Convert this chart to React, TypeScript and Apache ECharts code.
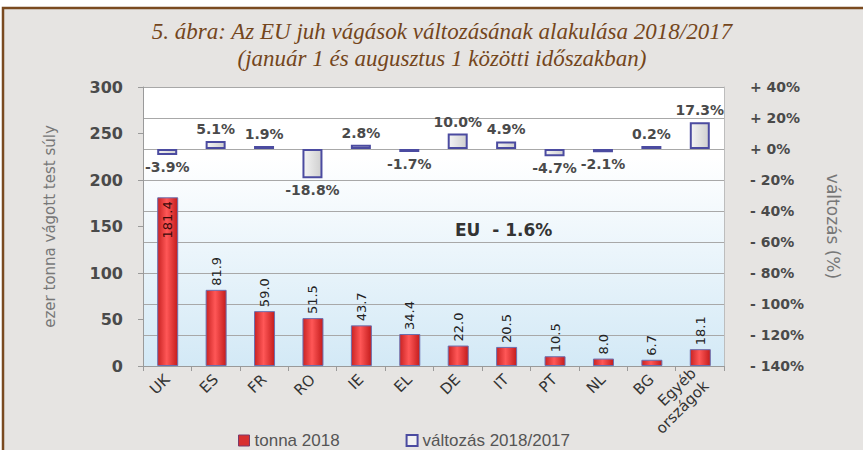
import React, { useEffect, useRef } from "react";
import * as echarts from "echarts";

const categories = ["UK", "ES", "FR", "RO", "IE", "EL", "DE", "IT", "PT", "NL", "BG", "Egyéb\nországok"];
const tonna2018 = [181.4, 81.9, 59.0, 51.5, 43.7, 34.4, 22.0, 20.5, 10.5, 8.0, 6.7, 18.1];
const valtozas = [-3.9, 5.1, 1.9, -18.8, 2.8, -1.7, 10.0, 4.9, -4.7, -2.1, 0.2, 17.3];
const titleLines = [
  "5. ábra: Az EU juh vágások változásának alakulása 2018/2017",
  "(január 1 és augusztus 1 közötti időszakban)",
];
const euNote = "EU  - 1.6%";

export default function App() {
  const ref = useRef<HTMLDivElement>(null);
  useEffect(() => {
    if (!ref.current) return;
    const chart = echarts.init(ref.current, undefined, { renderer: "svg" });
    const sans = "DejaVu Sans";
    const redGrad = new echarts.graphic.LinearGradient(0, 0, 1, 0, [
      { offset: 0, color: "#c92323" },
      { offset: 0.45, color: "#ff5757" },
      { offset: 1, color: "#c41c1c" },
    ]);
    const greyGrad = new echarts.graphic.LinearGradient(0, 0, 1, 0, [
      { offset: 0, color: "#f4f4f4" },
      { offset: 1, color: "#cfcfcf" },
    ]);
    chart.setOption({
      animation: false,
      backgroundColor: "#ffffff",
      title: {
        text: titleLines.join("\n"),
        left: 437,
        textAlign: "center",
        top: 13,
        textStyle: {
          fontFamily: "Liberation Serif",
          fontStyle: "italic",
          fontWeight: "normal",
          fontSize: 23,
          lineHeight: 27,
          color: "#74461c",
        },
      },
      graphic: [
        {
          type: "rect",
          z: -100,
          shape: { x: 3, y: 8, width: 900, height: 500 },
          style: { fill: "#e6e4e2", stroke: "#7a4a20", lineWidth: 2.5 },
        },
        {
          type: "text",
          left: 455,
          top: 221,
          style: {
            text: euNote,
            fontFamily: sans,
            fontWeight: "bold",
            fontSize: 17,
            fill: "#333333",
          },
        },
      ],
      legend: {
        left: 233,
        top: 427,
        itemWidth: 11,
        itemHeight: 11,
        itemGap: 66,
        textStyle: { fontFamily: "Liberation Sans", fontSize: 17, color: "#555555" },
        data: [
          { name: "tonna 2018", icon: "rect", itemStyle: { color: "#d83030", borderColor: "#7a3a6a", borderWidth: 1 } },
          { name: "változás 2018/2017", icon: "rect", itemStyle: { color: "#f2f2f2", borderColor: "#4b4ba0", borderWidth: 2 } },
        ],
      },
      grid: {
        left: 143,
        right: 139,
        top: 87,
        bottom: 84,
        show: true,
        borderWidth: 0,
        backgroundColor: new echarts.graphic.LinearGradient(0, 0, 0, 1, [
          { offset: 0, color: "#ffffff" },
          { offset: 0.25, color: "#ffffff" },
          { offset: 1, color: "#d3e9f6" },
        ]),
      },
      xAxis: {
        type: "category",
        data: categories,
        axisLine: { lineStyle: { color: "#9a9a9a" } },
        axisTick: { show: true, length: 5, lineStyle: { color: "#9a9a9a" } },
        axisLabel: {
          rotate: 45,
          interval: 0,
          fontFamily: sans,
          fontSize: 15,
          color: "#333333",
          margin: 11,
          lineHeight: 18,
        },
      },
      yAxis: [
        {
          type: "value",
          min: 0,
          max: 300,
          interval: 50,
          name: "ezer tonna vágott test súly",
          nameLocation: "middle",
          nameRotate: 90,
          nameGap: 86,
          nameTextStyle: { fontFamily: sans, fontSize: 15, color: "#777777" },
          axisLine: { show: true, lineStyle: { color: "#9a9a9a" } },
          axisTick: { show: true, length: 5, lineStyle: { color: "#9a9a9a" } },
          splitLine: { show: false },
          axisLabel: { fontFamily: sans, fontWeight: "bold", fontSize: 16, color: "#4a4a4a", margin: 20 },
        },
        {
          type: "value",
          min: -140,
          max: 40,
          interval: 20,
          position: "right",
          name: "változás (%)",
          nameLocation: "middle",
          nameRotate: -90,
          nameGap: 100,
          nameTextStyle: { fontFamily: sans, fontSize: 17, color: "#777777" },
          axisLine: { show: true, lineStyle: { color: "#bdbdbd" } },
          axisTick: { show: false },
          splitLine: { show: true, lineStyle: { color: "#a8a8a8", width: 1 } },
          axisLabel: {
            fontFamily: sans,
            fontWeight: "bold",
            fontSize: 14,
            color: "#4a4a4a",
            margin: 26,
            formatter: (v: number) => (v >= 0 ? `+ ${v}%` : `- ${Math.abs(v)}%`),
          },
        },
      ],
      series: [
        {
          name: "tonna 2018",
          type: "bar",
          yAxisIndex: 0,
          barWidth: 21,
          barGap: "-100%",
          z: 2,
          itemStyle: { color: redGrad, borderColor: "#6a70b0", borderWidth: 1 },
          data: tonna2018.map((v, i) => ({
            value: v,
            label:
              i === 0
                ? { show: true, position: "insideTop", rotate: 90, align: "right", verticalAlign: "middle", distance: 4, color: "#3a0a0a" }
                : { show: true, position: "top", rotate: 90, align: "left", verticalAlign: "middle", distance: 4, color: "#222222" },
          })),
          label: {
            fontFamily: sans,
            fontSize: 13,
            formatter: (p: any) => Number(p.value).toFixed(1),
          },
        },
        {
          name: "változás 2018/2017",
          type: "bar",
          yAxisIndex: 1,
          barWidth: 20,
          barMinHeight: 3,
          z: 3,
          itemStyle: { color: greyGrad, borderColor: "#4b4ba0", borderWidth: 2 },
          data: valtozas.map((v) => ({
            value: v,
            label: { show: true, position: v >= 0 ? "top" : "bottom", distance: 5 },
          })),
          label: {
            fontFamily: sans,
            fontWeight: "bold",
            fontSize: 14,
            color: "#4a4a4a",
            formatter: (p: any) => `${Number(p.value).toFixed(1)}%`,
          },
        },
      ],
    });
    return () => chart.dispose();
  }, []);
  return <div ref={ref} style={{ position: "fixed", left: 0, top: 0, width: 863, height: 450 }} />;
}
